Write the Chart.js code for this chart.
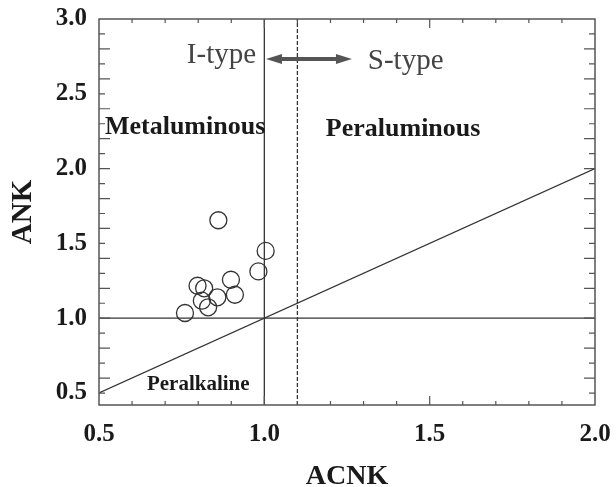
<!DOCTYPE html>
<html>
<head>
<meta charset="utf-8">
<script src="https://cdn.jsdelivr.net/npm/chart.js@4/dist/chart.umd.min.js"></script>
<style>
  html, body { margin: 0; padding: 0; background: #fff; }
  canvas { display: block; }
</style>
</head>
<body>
<canvas id="acnkChart" width="616" height="487"></canvas>
<script>
// A/CNK vs A/NK samples
const acnk = [0.760, 0.798, 0.818, 0.811, 0.830, 0.858, 0.899, 0.911, 0.982, 1.004, 0.861];
const ank  = [1.035, 1.217, 1.200, 1.117, 1.073, 1.140, 1.257, 1.157, 1.313, 1.450, 1.655];

// axis ticks
const xTicks = [0.5, 1.0, 1.5, 2.0];
const yTicks = [0.5, 1.0, 1.5, 2.0, 2.5, 3.0];
const xRange = [0.5, 2.0];
const yRange = [0.42, 3.0];

// field boundaries
const acnkBoundary = 1.0;     // metaluminous / peraluminous
const istypeBoundary = 1.1;   // I-type / S-type
const ankBoundary = 1.0;
const peralkalineLine = { x: [0.5, 2.0], y: [0.5, 2.0] };

const serif = '"Liberation Serif", "Times New Roman", serif';
const lineColor = '#333';

const fieldLabels = [
    { text: 'I-type', x: 0.975, y: 2.709, align: 'right', font: '29px ' + serif, color: '#444' },
    { text: 'S-type', x: 1.313, y: 2.669, align: 'left', font: '29px ' + serif, color: '#444' },
    { text: 'Metaluminous', x: 0.518, y: 2.229, align: 'left', font: 'bold 26px ' + serif, color: '#1a1a1a' },
    { text: 'Peraluminous', x: 1.186, y: 2.215, align: 'left', font: 'bold 26px ' + serif, color: '#1a1a1a' },
    { text: 'Peralkaline', x: 0.645, y: 0.517, align: 'left', font: 'bold 21px ' + serif, color: '#1a1a1a' }
];
const typeArrow = { x1: 1.005, x2: 1.265, y: 2.733 };

// frame, inward minor ticks, labels and the I/S arrow
const frameAndLabels = {
    id: 'frameAndLabels',
    afterDatasetsDraw(chart) {
        const { ctx, chartArea: a, scales: { x, y } } = chart;
        ctx.save();
        ctx.strokeStyle = '#555';
        ctx.lineWidth = 1.5;
        ctx.strokeRect(a.left, a.top, a.right - a.left, a.bottom - a.top);

        ctx.lineWidth = 1.2;
        ctx.beginPath();
        for (let i = 6; i < 20; i++) {
            const px = x.getPixelForValue(i / 10);
            const len = i % 5 === 0 ? 9 : 4;
            ctx.moveTo(px, a.bottom); ctx.lineTo(px, a.bottom - len);
            ctx.moveTo(px, a.top); ctx.lineTo(px, a.top + len);
        }
        for (let i = 5; i < 30; i++) {
            const py = y.getPixelForValue(i / 10);
            const len = i % 2 === 0 ? 11 : 6;
            ctx.moveTo(a.left, py); ctx.lineTo(a.left + len, py);
            ctx.moveTo(a.right, py); ctx.lineTo(a.right - len, py);
        }
        ctx.stroke();

        // double-headed arrow
        const ax1 = x.getPixelForValue(typeArrow.x1);
        const ax2 = x.getPixelForValue(typeArrow.x2);
        const ay = y.getPixelForValue(typeArrow.y);
        ctx.strokeStyle = '#555';
        ctx.fillStyle = '#555';
        ctx.lineWidth = 4;
        ctx.beginPath();
        ctx.moveTo(ax1 + 10, ay); ctx.lineTo(ax2 - 10, ay);
        ctx.stroke();
        ctx.beginPath();
        ctx.moveTo(ax1, ay); ctx.lineTo(ax1 + 16, ay - 5); ctx.lineTo(ax1 + 16, ay + 5); ctx.closePath();
        ctx.moveTo(ax2, ay); ctx.lineTo(ax2 - 16, ay - 5); ctx.lineTo(ax2 - 16, ay + 5); ctx.closePath();
        ctx.fill();

        ctx.textBaseline = 'alphabetic';
        fieldLabels.forEach(l => {
            ctx.font = l.font;
            ctx.fillStyle = l.color;
            ctx.textAlign = l.align;
            ctx.fillText(l.text, x.getPixelForValue(l.x), y.getPixelForValue(l.y));
        });
        ctx.restore();
    }
};

const refLine = (xs, ys, dash) => ({
    type: 'scatter',
    data: xs.map((v, i) => ({ x: v, y: ys[i] })),
    showLine: true,
    borderColor: lineColor,
    borderWidth: 1.3,
    borderDash: dash || [],
    pointRadius: 0,
    fill: false
});

const tickFont = { family: serif, size: 25, weight: 'bold' };

new Chart(document.getElementById('acnkChart'), {
    type: 'scatter',
    data: {
        datasets: [
            refLine([acnkBoundary, acnkBoundary], yRange),
            refLine([istypeBoundary, istypeBoundary], yRange, [4, 2]),
            refLine(xRange, [ankBoundary, ankBoundary]),
            refLine(peralkalineLine.x, peralkalineLine.y),
            {
                label: 'Samples',
                data: acnk.map((v, i) => ({ x: v, y: ank[i] })),
                pointRadius: 8.5,
                pointBackgroundColor: 'rgba(0,0,0,0)',
                pointBorderColor: '#333',
                pointBorderWidth: 1.3
            }
        ]
    },
    options: {
        responsive: false,
        animation: false,
        layout: { padding: { top: 19, right: 21, left: 0, bottom: 0 } },
        plugins: {
            legend: { display: false },
            tooltip: { enabled: false }
        },
        scales: {
            x: {
                type: 'linear',
                min: xRange[0],
                max: xRange[1],
                afterBuildTicks: s => { s.ticks = xTicks.map(v => ({ value: v })); },
                afterFit: s => { s.height = 82; s.paddingLeft = 0; s.paddingRight = 0; },
                grid: { display: false, drawTicks: false },
                border: { display: false },
                ticks: {
                    padding: 15,
                    color: '#1a1a1a',
                    font: tickFont,
                    callback: v => v.toFixed(1)
                },
                title: {
                    display: true,
                    text: 'ACNK',
                    color: '#1a1a1a',
                    font: { family: serif, size: 28, weight: 'bold', lineHeight: 0.72 },
                    padding: 0
                }
            },
            y: {
                type: 'linear',
                min: yRange[0],
                max: yRange[1],
                afterBuildTicks: s => { s.ticks = yTicks.map(v => ({ value: v })); },
                afterFit: s => { s.width = 99; s.paddingTop = 0; s.paddingBottom = 0; },
                grid: { display: false, drawTicks: false },
                border: { display: false },
                ticks: {
                    padding: 12,
                    color: '#1a1a1a',
                    font: tickFont,
                    callback: v => v.toFixed(1)
                },
                title: {
                    display: true,
                    text: 'ANK',
                    color: '#1a1a1a',
                    font: { family: serif, size: 29, weight: 'bold', lineHeight: 1 },
                    padding: { top: 9, bottom: 0 }
                }
            }
        }
    },
    plugins: [frameAndLabels]
});
</script>
</body>
</html>
